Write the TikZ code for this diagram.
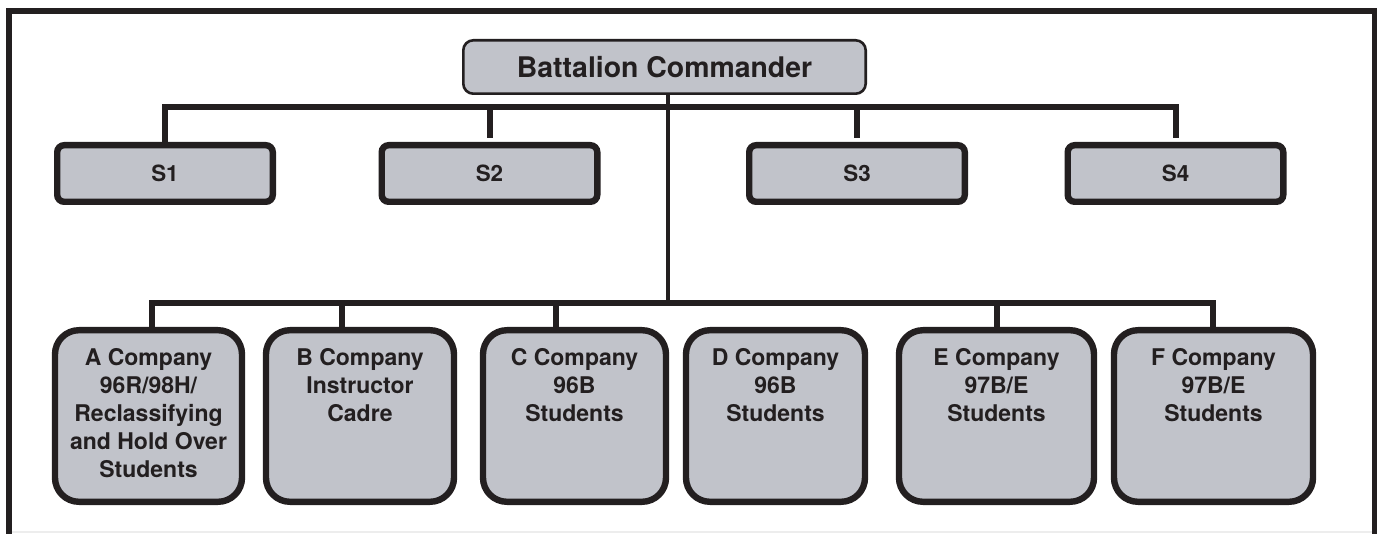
\documentclass[tikz,border=0pt]{standalone}
\usepackage{fontspec}
\setmainfont{TeX Gyre Heros}
\usetikzlibrary{positioning}
\definecolor{ink}{RGB}{35,31,32}
\definecolor{boxfill}{RGB}{193,195,202}

\begin{document}
\begin{tikzpicture}[x=0.5pt,y=-0.5pt,
  link/.style={draw=ink,line width=3pt},
  topbox/.style={draw=ink,fill=boxfill,line width=1.3pt,rounded corners=5pt,minimum width=201.2pt,minimum height=26.7pt,text=ink,font=\fontsize{14.2}{17}\selectfont\bfseries},
  sbox/.style={draw=ink,fill=boxfill,line width=3.2pt,rounded corners=3.5pt,minimum width=107.8pt,minimum height=28.3pt,text=ink,font=\fontsize{11.2}{13}\selectfont\bfseries},
  cbox/.style={draw=ink,fill=boxfill,line width=3.2pt,rounded corners=12pt,minimum height=85.8pt,minimum width=#1},
  ctext/.style={align=center,inner sep=0pt,text=ink,font=\fontsize{11.5}{14}\selectfont\bfseries,below=10.5pt of #1}]
\useasboundingbox (0,0) rectangle (1377,534);
% frame
\draw[draw=ink,line width=2.6pt] (9,534) -- (9,11) -- (1375,11) -- (1375,534);
\draw[draw=black!7,line width=0.8pt] (12,532) -- (1372,532);
% commander and staff
\node[topbox] (bc) at (664.5,67) {Battalion Commander};
\node[sbox] (s1) at (165,173.5) {S1};
\node[sbox] (s2) at (489.5,173.5) {S2};
\node[sbox] (s3) at (857,173.5) {S3};
\node[sbox] (s4) at (1175.5,173.5) {S4};
\coordinate (hub) at (668,107); \coordinate (bus) at (668,303);
\draw[link] (s1.north) |- (hub) -| ([yshift=2pt]s4.north);
\draw[link] ([yshift=2pt]s2.north) -- (s2.north |- hub);
\draw[link] ([yshift=2pt]s3.north) -- (s3.north |- hub);
\draw[link,line width=2pt] (bc.south -| hub) -- (bus);
% companies
\node[cbox=93.5pt] (ca) at (148.5,416) {};
\node[cbox=94pt] (cb) at (360,416) {};
\node[cbox=91.5pt] (cc) at (574.5,416) {};
\node[cbox=89.5pt] (cd) at (775.5,416) {};
\node[cbox=97.5pt] (ce) at (996.5,416) {};
\node[cbox=99.5pt] (cf) at (1213.5,416) {};
\node[ctext=ca.north] (ta) {A Company\\96R/98H/\\Reclassifying\\and Hold Over\\Students};
\node[ctext=cb.north] (tb) {B Company\\Instructor\\Cadre};
\node[ctext=cc.north] (tc) {C Company\\96B\\Students};
\node[ctext=cd.north] (td) {D Company\\96B\\Students};
\node[ctext=ce.north] (te) {E Company\\97B/E\\Students};
\node[ctext=cf.north] (tf) {F Company\\97B/E\\Students};
\coordinate (ja) at (152,303); \coordinate (jb) at (342,303); \coordinate (jc) at (556,303);
\coordinate (je) at (997,303); \coordinate (jf) at (1213,303);
\draw[link] (ja |- ca.north) -- (ja) -- (jf) -- (jf |- cf.north);
\foreach \j/\c in {jb/cb,jc/cc,je/ce} \draw[link] (\j) -- (\j |- \c.north);
\end{tikzpicture}
\end{document}
